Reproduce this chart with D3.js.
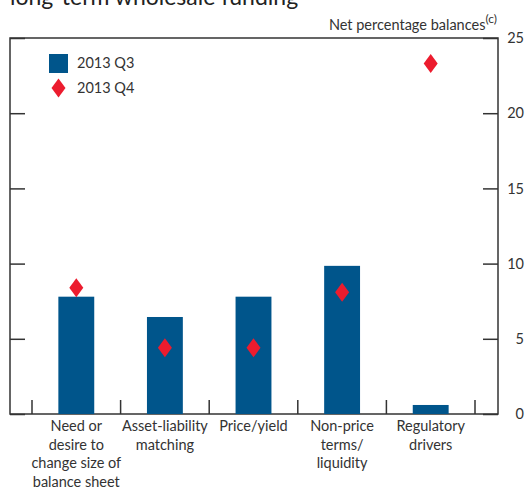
<!DOCTYPE html>
<html>
<head>
<meta charset="utf-8">
<script src="https://cdn.jsdelivr.net/npm/d3@7"></script>
<style>
  body { margin: 0; background: #fff; }
  text { font-family: Lato, "Open Sans", sans-serif; fill: #333; }
</style>
</head>
<body>
<svg width="526" height="489"></svg>
<script>
// data
var categories = ["Need or|desire to|change size of|balance sheet", "Asset-liability|matching", "Price/yield", "Non-price|terms/|liquidity", "Regulatory|drivers"];
var q3 = [7.8, 6.45, 7.8, 9.85, 0.6];
var q4 = [8.4, 4.4, 4.4, 8.1, 23.3];
var yTicks = [0, 5, 10, 15, 20, 25];

var svg = d3.select("svg");

var plotLeft = 10, plotRight = 498, plotTop = 38, plotBottom = 414;

var x = d3.scaleBand().domain(d3.range(categories.length)).range([32, 475]).paddingInner(0);
var y = d3.scaleLinear().domain([0, 25]).range([plotBottom, plotTop]);

// title (cut off at top)
svg.append("text")
  .attr("x", 10).attr("y", 5)
  .style("font-size", "23px")
  .style("fill", "#222")
  .text("long-term wholesale funding");

// units label
var u = svg.append("text")
  .attr("x", 497).attr("y", 30)
  .attr("text-anchor", "end")
  .style("font-size", "14.5px");
u.append("tspan").text("Net percentage balances");
u.append("tspan").attr("dy", -7).style("font-size", "12px").text("(c)");

// frame
svg.append("rect")
  .attr("x", plotLeft).attr("y", plotTop)
  .attr("width", plotRight - plotLeft).attr("height", plotBottom - plotTop)
  .style("fill", "none").style("stroke", "#333").style("stroke-width", 1.5);

// left ticks
var la = svg.append("g").attr("transform", "translate(" + plotLeft + ",0)")
  .call(d3.axisLeft(y).tickValues(yTicks).tickSize(-15).tickFormat(""));
la.select(".domain").remove();
la.selectAll("line").style("stroke", "#333").style("stroke-width", 1.5);

// right axis
var ra = svg.append("g").attr("transform", "translate(" + plotRight + ",0)")
  .call(d3.axisRight(y).tickValues(yTicks).tickSize(-15).tickPadding(0));
ra.select(".domain").remove();
ra.selectAll("line").style("stroke", "#333").style("stroke-width", 1.5);
ra.selectAll("text")
  .attr("x", 26).attr("text-anchor", "end")
  .style("font-size", "14.5px").style("fill", "#333")
  .style("font-family", "Lato, 'Open Sans', sans-serif");

// category ticks at band edges
var edges = d3.range(categories.length).map(function (i) { return x(i); }).concat([x(categories.length - 1) + x.bandwidth()]);
svg.append("g").selectAll("line").data(edges).enter().append("line")
  .attr("x1", function (d) { return d; }).attr("x2", function (d) { return d; })
  .attr("y1", plotBottom).attr("y2", plotBottom - 14)
  .style("stroke", "#333").style("stroke-width", 1.5);

// bars
var bw = x.bandwidth() * 0.405;
svg.append("g").selectAll("rect").data(q3).enter().append("rect")
  .attr("x", function (d, i) { return x(i) + x.bandwidth() / 2 - bw / 2; })
  .attr("y", function (d) { return y(d); })
  .attr("width", bw)
  .attr("height", function (d) { return y(0) - y(d); })
  .style("fill", "#00558b");

// diamonds
function diamond(w, h) {
  return "M0," + (-h / 2) + "L" + (w / 2) + ",0L0," + (h / 2) + "L" + (-w / 2) + ",0Z";
}
svg.append("g").selectAll("path").data(q4).enter().append("path")
  .attr("transform", function (d, i) { return "translate(" + (x(i) + x.bandwidth() / 2) + "," + y(d) + ")"; })
  .attr("d", diamond(14, 19))
  .style("fill", "#ec1c2e");

// category labels
categories.forEach(function (c, i) {
  var t = svg.append("text")
    .attr("text-anchor", "middle")
    .attr("x", x(i) + x.bandwidth() / 2)
    .attr("y", 431)
    .style("font-size", "14.5px");
  c.split("|").forEach(function (line, j) {
    t.append("tspan").attr("x", x(i) + x.bandwidth() / 2).attr("dy", j === 0 ? 0 : 18.7).text(line);
  });
});

// legend
var lg = svg.append("g");
lg.append("rect").attr("x", 49).attr("y", 54).attr("width", 19).attr("height", 19).style("fill", "#00558b");
lg.append("path").attr("transform", "translate(58.5,88)").attr("d", diamond(14, 19)).style("fill", "#ec1c2e");
lg.append("text").attr("x", 77).attr("y", 68).style("font-size", "14.5px").text("2013 Q3");
lg.append("text").attr("x", 77).attr("y", 93).style("font-size", "14.5px").text("2013 Q4");
</script>
</body>
</html>
